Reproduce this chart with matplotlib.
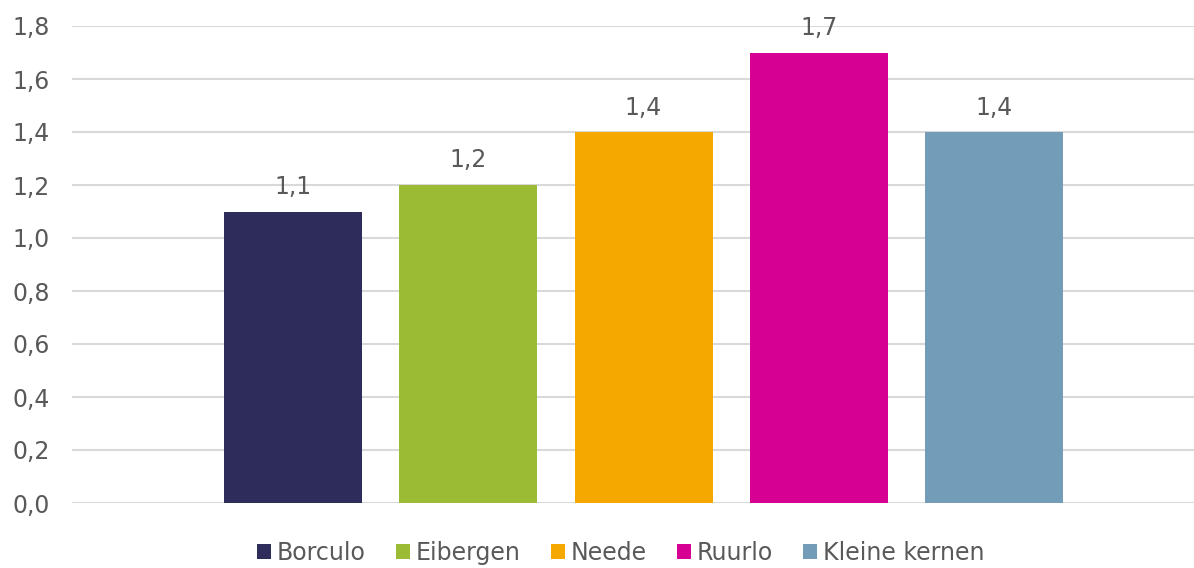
import matplotlib
matplotlib.use("Agg")
import matplotlib.pyplot as plt
from matplotlib.ticker import FuncFormatter

# data
series = ["Borculo", "Eibergen", "Neede", "Ruurlo", "Kleine kernen"]
values = [1.1, 1.2, 1.4, 1.7, 1.4]
colors = ["#2E2C5A", "#9BBB34", "#F5A800", "#D60093", "#739CB8"]
yticks = [0.0, 0.2, 0.4, 0.6, 0.8, 1.0, 1.2, 1.4, 1.6, 1.8]

txt = "#595959"
plt.rcParams["font.family"] = ["DejaVu Sans"]

fig = plt.figure(figsize=(11.94, 5.68), dpi=100)
ax = fig.add_axes([72 / 1194, 65 / 568, 1122 / 1194, 477 / 568])

offsets = [-2, -1, 0, 1, 2]
handles = []
for off, name, v, c in zip(offsets, series, values, colors):
    b = ax.bar(off, v, width=0.787, color=c, label=name, zorder=3)
    handles.append(b)
    ax.annotate(f"{v:.1f}".replace(".", ","), (off, v), xytext=(0, 9),
                textcoords="offset points", ha="center", va="bottom",
                fontsize=17, color=txt)

ax.set_xlim(-3.26, 3.14)
ax.set_ylim(0, 1.8)
ax.set_yticks(yticks)
ax.yaxis.set_major_formatter(FuncFormatter(lambda y, p: f"{y:.1f}".replace(".", ",")))
ax.set_xticks([])
ax.grid(axis="y", color="#D9D9D9", linewidth=1.5, zorder=0)
for s in ax.spines.values():
    s.set_visible(False)
ax.tick_params(axis="y", length=0, pad=16, labelsize=17, labelcolor=txt)

fig.legend(handles=handles, labels=series, loc="center", bbox_to_anchor=(0.52, 0.026),
           ncol=5, frameon=False, fontsize=17, labelcolor=txt,
           handlelength=0.6, handleheight=0.6, handletextpad=0.25, columnspacing=1.27)

fig.savefig("out.png", dpi=100)
